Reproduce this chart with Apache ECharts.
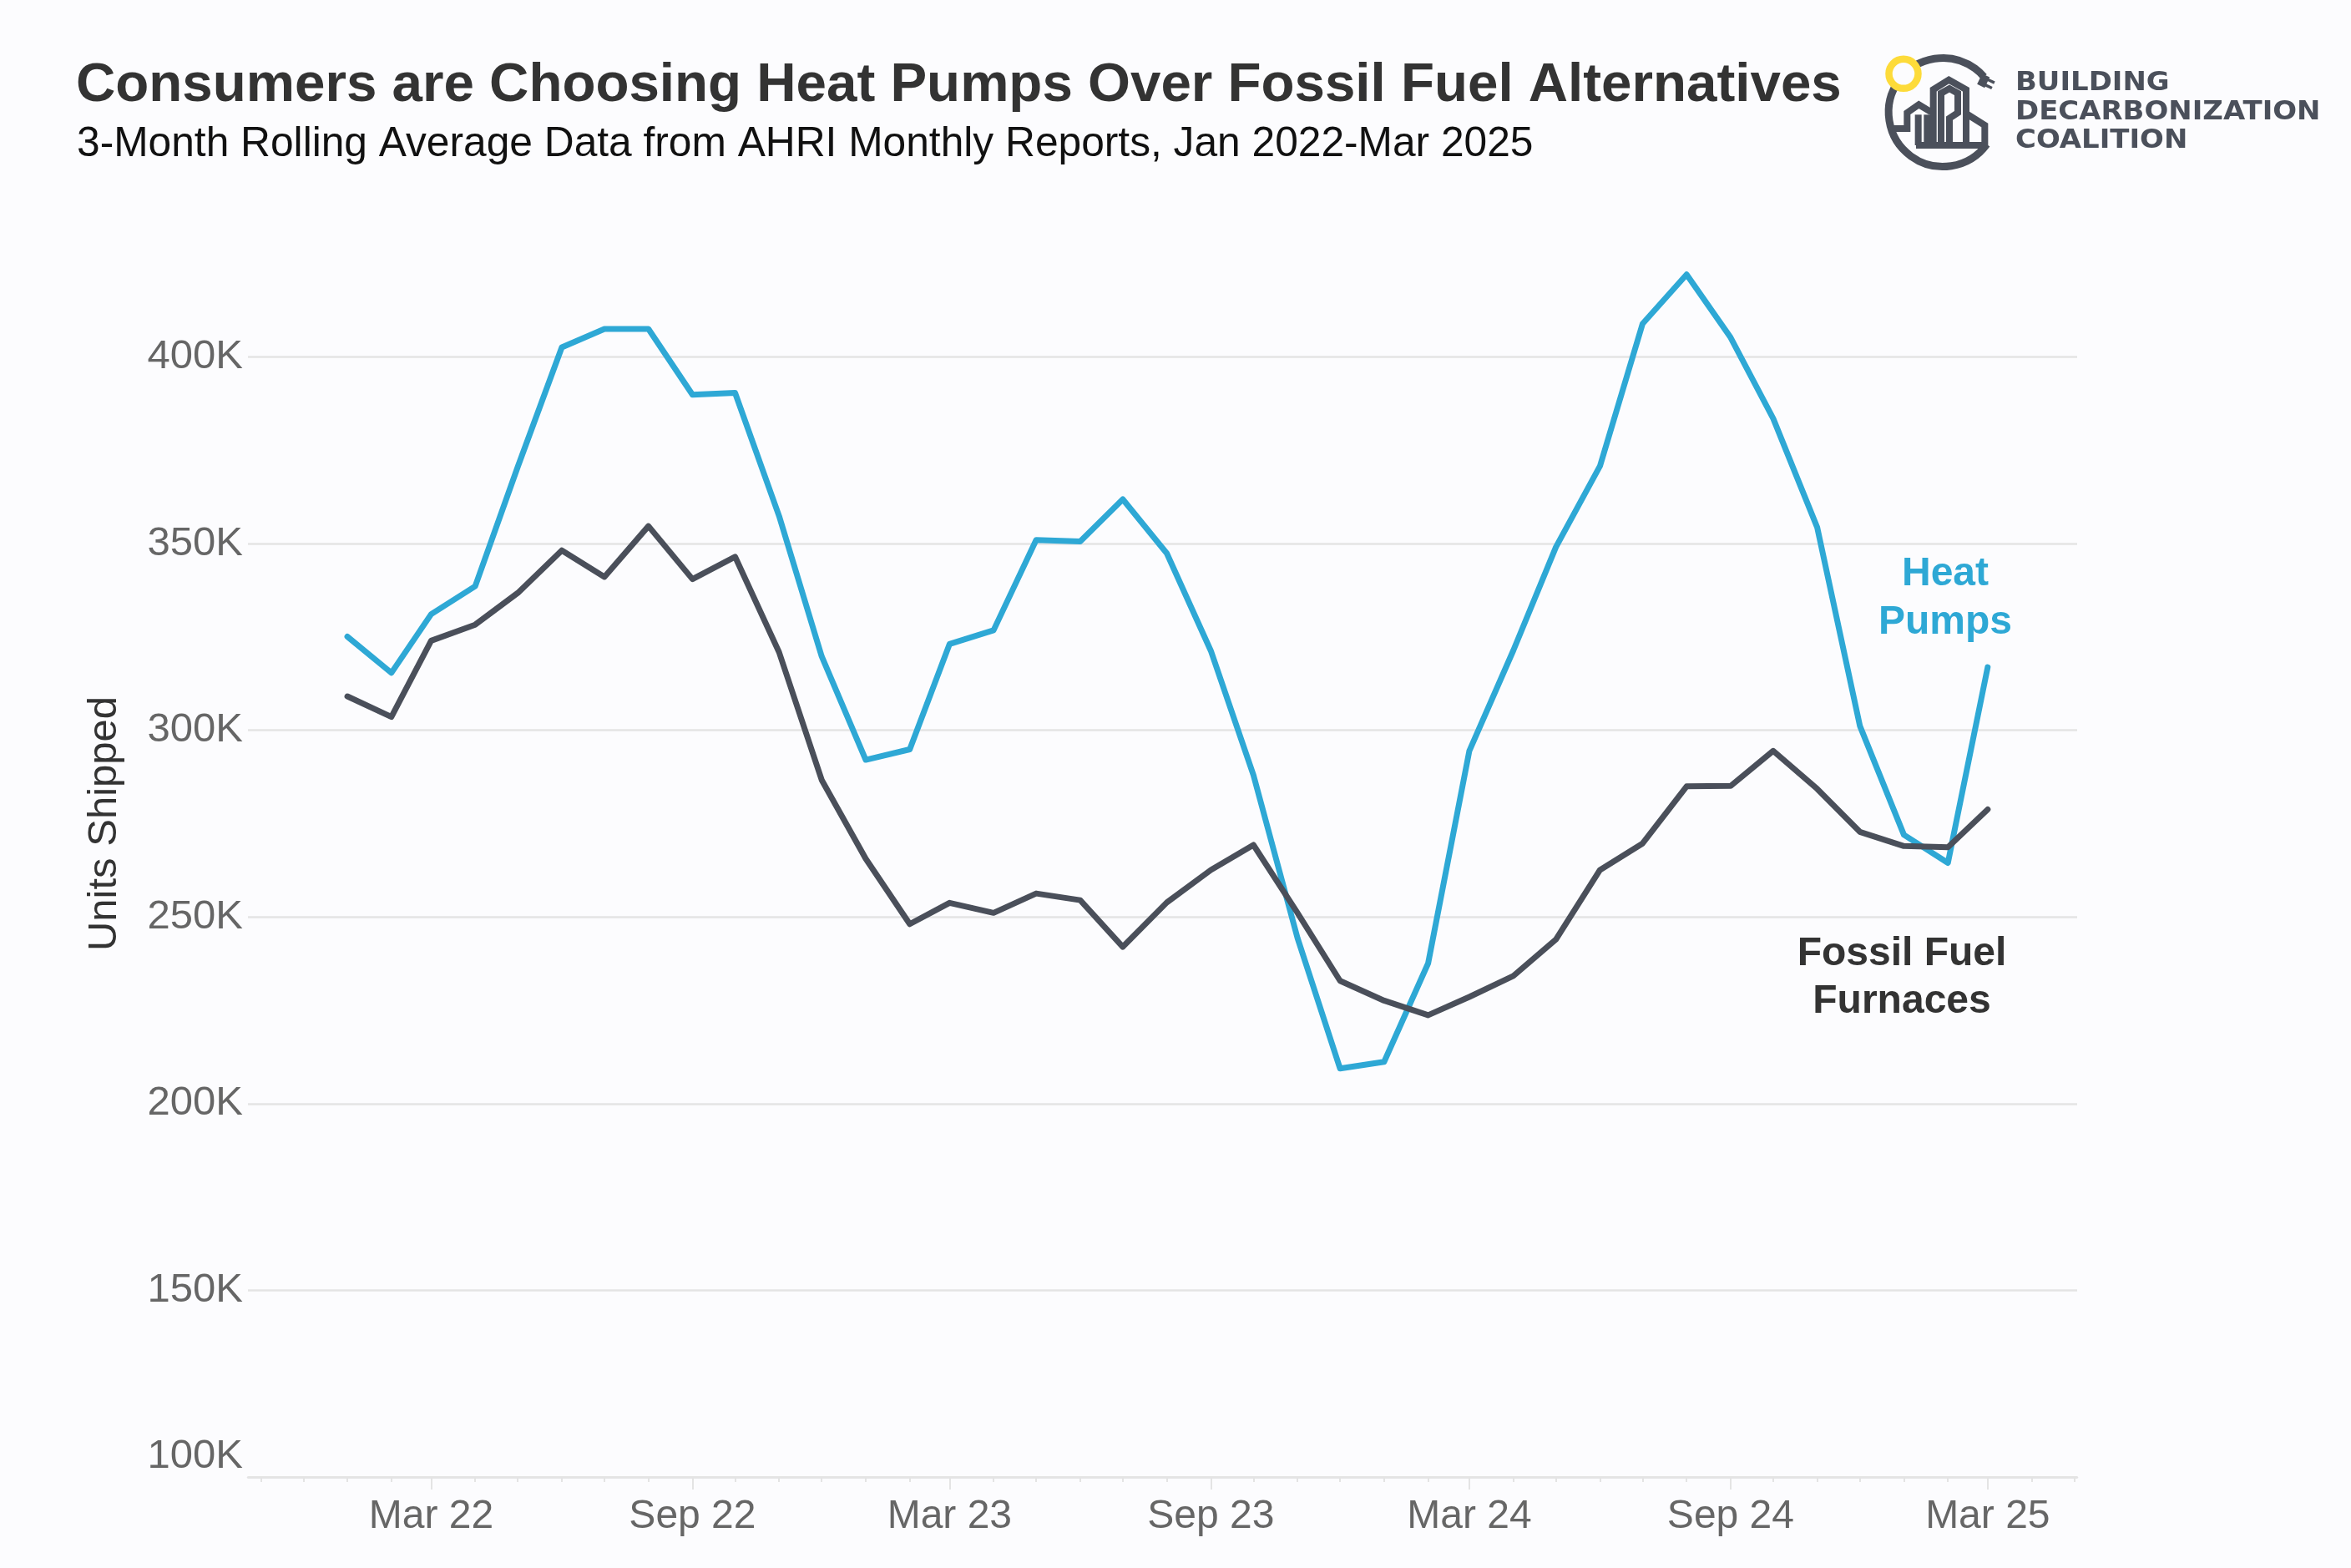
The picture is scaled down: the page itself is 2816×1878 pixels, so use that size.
<!DOCTYPE html>
<html>
<head>
<meta charset="utf-8">
<script src="https://cdn.jsdelivr.net/npm/echarts@6/dist/echarts.min.js"></script>
<style>
html,body{margin:0;padding:0;background:#fcfcfe;}
#chart{width:2816px;height:1878px;}
</style>
</head>
<body>
<div id="chart"></div>
<script>
// ---- data ----
const months = [
  '2022-01','2022-02','2022-03','2022-04','2022-05','2022-06','2022-07','2022-08','2022-09','2022-10','2022-11','2022-12',
  '2023-01','2023-02','2023-03','2023-04','2023-05','2023-06','2023-07','2023-08','2023-09','2023-10','2023-11','2023-12',
  '2024-01','2024-02','2024-03','2024-04','2024-05','2024-06','2024-07','2024-08','2024-09','2024-10','2024-11','2024-12',
  '2025-01','2025-02','2025-03'
];
const heatPumps = [
  325100, 315400, 331100, 338600, 370600, 402600, 407500, 407500, 389900, 390400, 357400, 319800,
  292100, 294900, 323100, 326800, 351000, 350600, 361900, 347400, 321300, 288000, 244400, 209400,
  211200, 237600, 294500, 321400, 349100, 370800, 408900, 422100, 405200, 383500, 354300, 301200,
  272000, 264500, 316900
];
const fossilFurnaces = [
  309100, 303600, 324000, 328300, 336800, 348200, 341100, 354700, 340500, 346500, 320900, 286700,
  265600, 248100, 253800, 251100, 256300, 254500, 242000, 253900, 262600, 269300, 251100, 232900,
  227600, 223700, 228600, 234200, 244000, 262600, 269700, 285000, 285100, 294500, 284300, 272800,
  269000, 268700, 278800
];
const tickLabels = ['Mar 22','Sep 22','Mar 23','Sep 23','Mar 24','Sep 24','Mar 25'];
const yTickLabels = ['100K','150K','200K','250K','300K','350K','400K'];

// ---- helpers (x positions are day numbers, so month lengths are kept) ----
const DAY = 86400000;
const MON = ['Jan','Feb','Mar','Apr','May','Jun','Jul','Aug','Sep','Oct','Nov','Dec'];
function dayNum(y, m, d){ return Math.round(Date.UTC(y, m, d) / DAY); }
function parseYM(s){ const p = s.split('-'); return dayNum(+p[0], +p[1]-1, 1); }
function parseLabel(s){ const p = s.split(' '); return dayNum(2000 + (+p[1]), MON.indexOf(p[0]), 1); }
const labelVals = tickLabels.map(parseLabel);
const xMin = dayNum(2021, 9, 23);
const xMax = dayNum(2025, 4, 3);
const monthTicks = [];
for (let y = 2021, m = 10; ; ) {
  const t = dayNum(y, m, 1);
  if (t > xMax) break;
  monthTicks.push(t);
  m++; if (m > 11) { m = 0; y++; }
}

const FONT = "'Liberation Sans', Arial, Helvetica, sans-serif";
const BG = '#fcfcfe';
const BLUE = '#2ea8d5';
const DARK = '#4a4f5a';
const LOGO = '#4b505b';
const GRID = '#e4e4e4';

// ---- logo (decoration) ----
const Z = (x, y) => [2245 + x / 3, 50 + y / 3];
const P = pts => pts.map(p => Z(p[0], p[1]));
const bldStyle = { stroke: LOGO, lineWidth: 8, fill: null, lineJoin: 'miter', lineCap: 'butt' };
const tv = [0.902, 0.431], nv = [0.431, -0.902], pc = [2375.7, 96.7];
const pt = (a, b) => [pc[0] + a * tv[0] + b * nv[0], pc[1] + a * tv[1] + b * nv[1]];
const LOGOFONT = "'DejaVu Sans', sans-serif";
const logoText = (txt, y) => ({ type: 'text', x: 2414, y: y, scaleX: 1.06, scaleY: 1,
  style: { text: txt, fontFamily: LOGOFONT, fontSize: 32, fontWeight: 'bold', fill: LOGO, align: 'left', verticalAlign: 'middle' } });
const logo = [
  { type: 'arc', shape: { cx: 2327.2, cy: 134.5, r: 65, startAngle: 0.63, endAngle: 5.57, clockwise: true },
    style: { stroke: LOGO, lineWidth: 9, fill: null } },
  { type: 'polygon', shape: { points: [pt(-5, -7), pt(5, -7), pt(5, 7), pt(-5, 7)] }, style: { fill: LOGO } },
  { type: 'polyline', shape: { points: [pt(4, 3.5), pt(13, 3.5)] }, style: { stroke: LOGO, lineWidth: 3.5 } },
  { type: 'polyline', shape: { points: [pt(4, -3.5), pt(13, -3.5)] }, style: { stroke: LOGO, lineWidth: 3.5 } },
  { type: 'polyline', shape: { points: P([[65,312],[118,312],[118,255],[160,226],[205,253]]) }, style: bldStyle },
  { type: 'polyline', shape: { points: P([[158,262],[158,372]]) }, style: bldStyle },
  { type: 'polyline', shape: { points: P([[190,262],[190,372]]) }, style: bldStyle },
  { type: 'polyline', shape: { points: P([[150,372],[404,372]]) }, style: bldStyle },
  { type: 'polyline', shape: { points: P([[212,372],[212,172],[268,137],[330,172],[330,372]]) }, style: bldStyle },
  { type: 'polyline', shape: { points: P([[240,372],[240,185],[270,168],[300,185],[300,255],[270,275],[270,372]]) }, style: bldStyle },
  { type: 'polyline', shape: { points: P([[330,258],[397,300],[397,372]]) }, style: bldStyle },
  { type: 'circle', shape: { cx: 2280, cy: 88.3, r: 17.5 }, style: { fill: BG, stroke: '#fddb3a', lineWidth: 8.5 } },
  logoText('BUILDING', 100),
  logoText('DECARBONIZATION', 134.5),
  logoText('COALITION', 169)
];

const annotations = [
  { type: 'text', x: 2330, y: 717, style: { text: 'Heat\nPumps', fontFamily: FONT, fontSize: 48, fontWeight: 'bold', fill: BLUE, align: 'center', verticalAlign: 'middle', lineHeight: 58 } },
  { type: 'text', x: 2278, y: 1171, style: { text: 'Fossil Fuel\nFurnaces', fontFamily: FONT, fontSize: 48, fontWeight: 'bold', fill: '#333333', align: 'center', verticalAlign: 'middle', lineHeight: 57 } }
];

const chart = echarts.init(document.getElementById('chart'), null, { renderer: 'canvas' });
const option = {
  backgroundColor: BG,
  animation: false,
  title: [
    { text: 'Consumers are Choosing Heat Pumps Over Fossil Fuel Alternatives', left: 86, top: 65,
      textStyle: { fontFamily: FONT, fontSize: 65.5, fontWeight: 'bold', color: '#333333' } },
    { text: '3-Month Rolling Average Data from AHRI Monthly Reports, Jan 2022-Mar 2025', left: 87, top: 143,
      textStyle: { fontFamily: FONT, fontSize: 49.7, fontWeight: 'normal', color: '#111111' } }
  ],
  grid: { left: 297, right: 328, top: 204, bottom: 109, containLabel: false },
  xAxis: [
    { type: 'value', min: xMin, max: xMax, position: 'bottom', scale: true,
      axisLine: { show: true, lineStyle: { color: GRID, width: 2.5 } },
      axisTick: { show: true, length: 6, customValues: monthTicks, lineStyle: { color: GRID, width: 2 } },
      axisLabel: { show: false }, splitLine: { show: false } },
    { type: 'value', min: xMin, max: xMax, position: 'bottom', gridIndex: 0, scale: true,
      axisLine: { show: false },
      axisTick: { show: true, length: 15, customValues: labelVals, lineStyle: { color: GRID, width: 2 } },
      axisLabel: { show: true, customValues: labelVals, margin: 24, fontSize: 48, color: '#666666', fontFamily: FONT,
        formatter: function (val) {
          const i = labelVals.findIndex(v => Math.abs(v - val) < 2);
          return i >= 0 ? tickLabels[i] : '';
        } },
      splitLine: { show: false } }
  ],
  yAxis: {
    type: 'value', min: 100000, max: 450000, interval: 50000,
    name: 'Units Shipped', nameLocation: 'middle', nameGap: 147,
    nameTextStyle: { fontFamily: FONT, fontSize: 49, color: '#333333' },
    axisLine: { show: false }, axisTick: { show: false },
    axisLabel: {
      margin: 6, fontSize: 49, color: '#666666', fontFamily: FONT,
      formatter: function (v) {
        const i = Math.round((v - 100000) / 50000);
        if (i < 0 || i >= yTickLabels.length) return '';
        return i === 0 ? '{lo|' + yTickLabels[0] + '}' : yTickLabels[i];
      },
      rich: { lo: { fontSize: 49, color: '#666666', fontFamily: FONT, padding: [0, 0, 50, 0] } }
    },
    splitLine: { show: true, lineStyle: { color: [GRID, GRID, GRID, GRID, GRID, GRID, GRID, 'rgba(0,0,0,0)'], width: 2.5 } }
  },
  series: [
    { type: 'line', name: 'Heat Pumps', xAxisIndex: 0, symbol: 'none', showSymbol: false,
      data: months.map((m, i) => [parseYM(m), heatPumps[i]]),
      lineStyle: { color: BLUE, width: 7, cap: 'round', join: 'round' }, itemStyle: { color: BLUE } },
    { type: 'line', name: 'Fossil Fuel Furnaces', xAxisIndex: 0, symbol: 'none', showSymbol: false,
      data: months.map((m, i) => [parseYM(m), fossilFurnaces[i]]),
      lineStyle: { color: DARK, width: 7, cap: 'round', join: 'round' }, itemStyle: { color: DARK } }
  ],
  graphic: logo.concat(annotations)
};
chart.setOption(option);
</script>
</body>
</html>
